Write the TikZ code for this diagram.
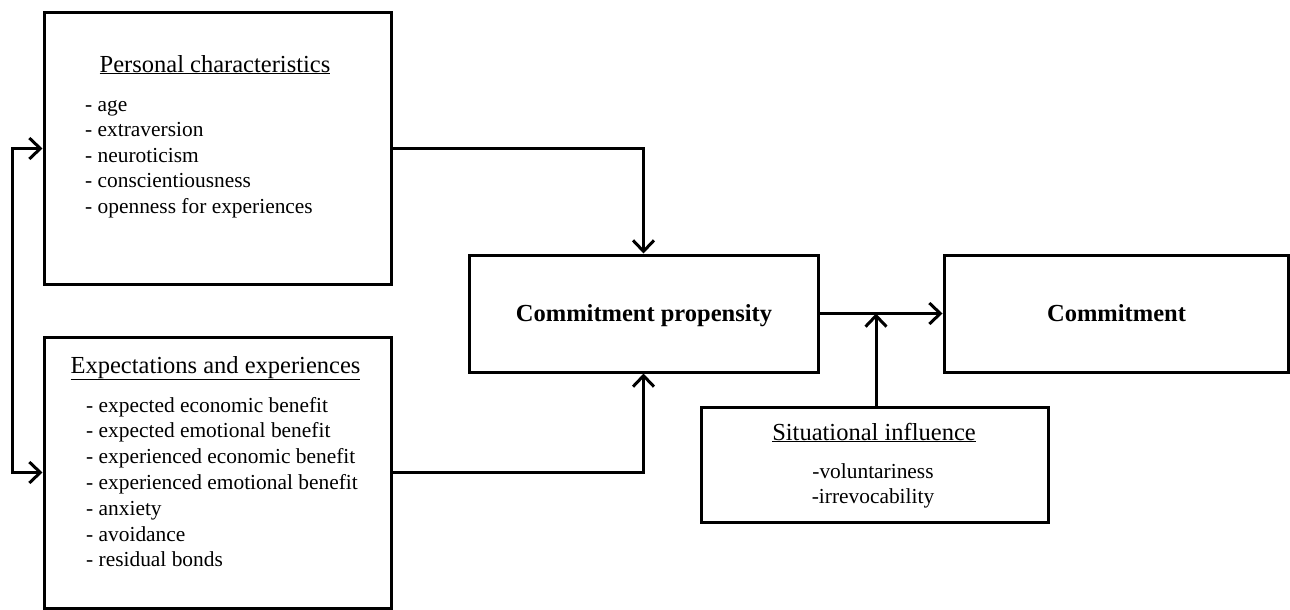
\documentclass[tikz,border=0pt]{standalone}
\usepackage{fontspec}
\setmainfont{Liberation Serif}
\usetikzlibrary{arrows.meta}
\begin{document}
\begin{tikzpicture}[x=1pt,y=-1pt,
  box/.style={draw, line width=3pt, inner sep=0pt, rectangle},
  ttl/.style={anchor=base, inner sep=0pt, font=\fontsize{24.5}{28}\selectfont},
  itm/.style={anchor=base west, inner sep=0pt, font=\fontsize{21.4}{25}\selectfont},
  itc/.style={anchor=base, inner sep=0pt, font=\fontsize{21.4}{25}\selectfont},
  bld/.style={anchor=base, inner sep=0pt, font=\fontsize{24.5}{28}\selectfont\bfseries},
  arr/.style={line width=3pt, -{Straight Barb[length=11pt,width=21pt]}},
  darr/.style={line width=3pt, {Straight Barb[length=11pt,width=21pt]}-{Straight Barb[length=11pt,width=21pt]}},
  ln/.style={line width=3pt}]
\useasboundingbox (0,0) rectangle (1290,610);
% boxes
\node[box, minimum width=347pt, minimum height=271pt] (pc) at (217.5,148.5) {};
\node[box, minimum width=347pt, minimum height=271pt] (ee) at (217.5,472.5) {};
\node[box, minimum width=349pt, minimum height=117pt] (cp) at (643.5,313.5) {};
\node[box, minimum width=344pt, minimum height=117pt] (cm) at (1116,313.5) {};
\node[box, minimum width=347pt, minimum height=115pt] (si) at (874.5,464.5) {};
% texts
\node[ttl] (pct) at (215,72) {\underline{Personal characteristics}};
\node[itm] (pc1) at (85,111) {- age};
\node[itm] (pc2) at (85,136.5) {- extraversion};
\node[itm] (pc3) at (85,162) {- neuroticism};
\node[itm] (pc4) at (85,187.5) {- conscientiousness};
\node[itm] (pc5) at (85,213) {- openness for experiences};
\node[ttl] (eet) at (215.5,373) {\underline{Expectations and experiences}};
\node[itm] (ee1) at (86,412) {- expected economic benefit};
\node[itm] (ee2) at (86,437.8) {- expected emotional benefit};
\node[itm] (ee3) at (86,463.6) {- experienced economic benefit};
\node[itm] (ee4) at (86,489.4) {- experienced emotional benefit};
\node[itm] (ee5) at (86,515.2) {- anxiety};
\node[itm] (ee6) at (86,541) {- avoidance};
\node[itm] (ee7) at (86,566.8) {- residual bonds};
\node[bld] (cpt) at (644,321) {Commitment propensity};
\node[bld] (cmt) at (1116.5,321) {Commitment};
\node[ttl] (sit) at (874,440) {\underline{Situational influence}};
\node[itc] (si1) at (873,478) {-voluntariness};
\node[itc] (si2) at (873,503) {-irrevocability};
% connectors
\coordinate (L) at (12,0);
\coordinate (J) at (876,313.5);
\draw[darr] (pc.west) -- (L |- pc.west) -- (L |- ee.west) -- (ee.west);
\draw[arr] (pc.east) -| (cp.north);
\draw[arr] (ee.east) -| (cp.south);
\draw[arr] (cp.east) -- (cm.west);
\draw[arr] (J |- si.north) -- (J);
\end{tikzpicture}
\end{document}
